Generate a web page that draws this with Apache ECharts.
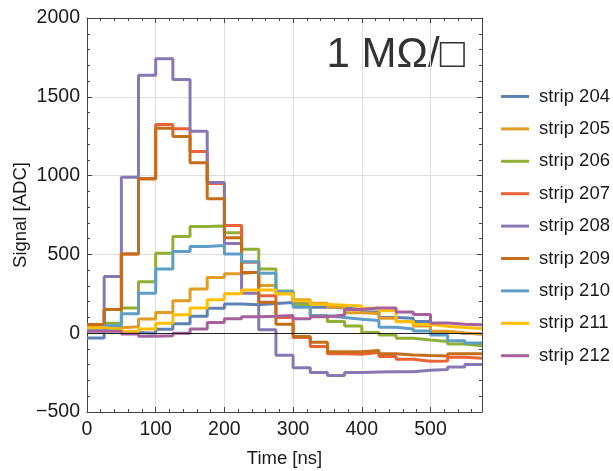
<!DOCTYPE html>
<html>
<head>
<meta charset="utf-8">
<script src="https://cdn.jsdelivr.net/npm/echarts@6/dist/echarts.min.js"></script>
<style>
  html, body { margin: 0; padding: 0; background: #fff; }
  #chart { width: 613px; height: 471px; }
</style>
</head>
<body>
<div id="chart"></div>
<script>
// Left edges of the 25 ns time bins, plus the closing edge of the last bin
const binEdges = [0, 25, 50, 75, 100, 125, 150, 175, 200, 225, 250, 275,
                  300, 325, 350, 375, 400, 425, 450, 475, 500, 525, 550, 575];

const stripNames = ['strip 204', 'strip 205', 'strip 206', 'strip 207', 'strip 208',
                    'strip 209', 'strip 210', 'strip 211', 'strip 212'];

// Signal per time bin [ADC]
const strip204 = [-30, 25, 5, 0, 25, 60, 108, 158, 185, 180, 188, 195,
                  185, 165, 160, 150, 135, 100, 95, 75, 10, 0, -5];
const strip205 = [45, 35, 41, 90, 132, 206, 281, 353, 378, 386, 302, 250,
                  212, 190, 165, 130, 125, 95, 72, 45, 12, 2, -5];
const strip206 = [30, 63, 160, 327, 507, 613, 677, 680, 638, 532, 408, 268,
                  180, 112, 74, 46, 4, -11, -32, -43, -53, -68, -79];
const strip207 = [50, 150, 503, 982, 1325, 1297, 1153, 950, 683, 450, 238, 100,
                  -28, -85, -131, -134, -123, -148, -166, -178, -176, -153, -159];
const strip208 = [15, 359, 990, 1636, 1742, 1610, 1282, 956, 569, 253, 22, -140,
                  -220, -250, -268, -249, -246, -244, -244, -235, -230, -214, -198];
const strip209 = [55, 150, 503, 978, 1300, 1248, 1082, 853, 605, 385, 196, 57,
                  -21, -57, -117, -117, -110, -131, -138, -142, -144, -131, -131];
const strip210 = [30, 48, 124, 253, 408, 518, 550, 556, 503, 453, 380, 265,
                  165, 110, 100, 89, 80, 38, 27, 14, -11, -48, -62];
const strip211 = [35, 25, 10, 27, 63, 117, 160, 212, 251, 274, 274, 250,
                  205, 184, 178, 172, 158, 143, 75, 55, 44, 36, 30];
const strip212 = [12, 12, -5, -20, -16, 0, 27, 68, 92, 105, 108, 112,
                  92, 105, 115, 150, 160, 160, 135, 118, 65, 57, 53];

const stripValues = [strip204, strip205, strip206, strip207, strip208,
                     strip209, strip210, strip211, strip212];

const palette = ['#5E81B5', '#E19C24', '#8FB032', '#EB6235', '#8778B3',
                 '#C56E1A', '#5D9EC7', '#FFBF00', '#A5609D'];

const FONT = '"Liberation Sans", Arial, Helvetica, sans-serif';
const FRAME = '#444444';
const TEXT = '#1a1a1a';

// Each bin value holds from its left edge to the next edge; repeat the last
// value at the closing edge so the final step is drawn across the bin.
function stepData(values) {
  const pts = values.map((v, i) => [binEdges[i], v]);
  pts.push([binEdges[values.length], values[values.length - 1]]);
  return pts;
}

const minus = v => (v < 0 ? '\u2212' + Math.abs(v) : String(v));

function xAxisDef(pos, interval, major) {
  const labelled = major && pos === 'bottom';
  return {
    type: 'value', position: pos, min: 0, max: 575, interval: interval,
    axisLine: { show: major, onZero: false, lineStyle: { color: FRAME, width: 1 } },
    axisTick: { show: true, inside: true, length: major ? 5 : 3,
                lineStyle: { color: FRAME, width: 1 } },
    axisLabel: { show: labelled, color: TEXT, fontSize: 19.5,
                 fontFamily: FONT, margin: 8, showMaxLabel: false },
    splitLine: { show: labelled, lineStyle: { color: '#dddddd', width: 1 } },
    name: labelled ? 'Time [ns]' : '',
    nameLocation: 'middle', nameGap: 37, nameMoveOverlap: false,
    nameTextStyle: { color: TEXT, fontSize: 18.5, fontFamily: FONT }
  };
}

function yAxisDef(pos, interval, major) {
  const labelled = major && pos === 'left';
  return {
    type: 'value', position: pos, min: -500, max: 2000, interval: interval,
    axisLine: { show: major, onZero: false, lineStyle: { color: FRAME, width: 1 } },
    axisTick: { show: true, inside: true, length: major ? 5 : 3,
                lineStyle: { color: FRAME, width: 1 } },
    axisLabel: { show: labelled, color: TEXT, fontSize: 19.5,
                 fontFamily: FONT, margin: 7, formatter: minus },
    splitLine: { show: labelled, lineStyle: { color: '#dddddd', width: 1 } },
    name: labelled ? 'Signal [ADC]' : '',
    nameLocation: 'middle', nameGap: 57, nameRotate: 90, nameMoveOverlap: false,
    nameTextStyle: { color: TEXT, fontSize: 18.5, fontFamily: FONT }
  };
}

const series = stripNames.map((name, i) => ({
  name: name,
  type: 'line',
  step: 'end',
  xAxisIndex: 0,
  yAxisIndex: 0,
  data: stepData(stripValues[i]),
  showSymbol: false,
  symbol: 'none',
  animation: false,
  lineStyle: { color: palette[i], width: 3 },
  itemStyle: { color: palette[i] }
}));

// Horizontal axis line through zero
series[0].markLine = {
  silent: true, symbol: 'none', animation: false,
  label: { show: false },
  lineStyle: { color: '#222', width: 1, type: 'solid' },
  data: [{ yAxis: 0 }]
};

const chart = echarts.init(document.getElementById('chart'), null, { renderer: 'canvas' });
chart.setOption({
  animation: false,
  backgroundColor: '#ffffff',
  color: palette,
  grid: { left: 87, right: 131, top: 18, bottom: 59, containLabel: false,
          outerBoundsMode: 'none' },
  xAxis: [
    xAxisDef('bottom', 100, true),
    xAxisDef('bottom', 20, false),
    xAxisDef('top', 100, true),
    xAxisDef('top', 20, false)
  ],
  yAxis: [
    yAxisDef('left', 500, true),
    yAxisDef('left', 100, false),
    yAxisDef('right', 500, true),
    yAxisDef('right', 100, false)
  ],
  legend: {
    orient: 'vertical',
    left: 501,
    top: 87,
    padding: 0,
    itemWidth: 28,
    itemHeight: 3,
    itemGap: 13.4,
    icon: 'rect',
    selectedMode: false,
    data: stripNames,
    textStyle: { color: TEXT, fontSize: 18.5, fontFamily: FONT, lineHeight: 18,
                 padding: [0, 0, 0, 5] }
  },
  graphic: [{
    type: 'text',
    right: 148,
    top: 34,
    style: {
      text: '1 M\u03A9/\u25A1',
      font: '42px ' + FONT,
      fill: '#333333'
    }
  }],
  series: series
});
</script>
</body>
</html>
